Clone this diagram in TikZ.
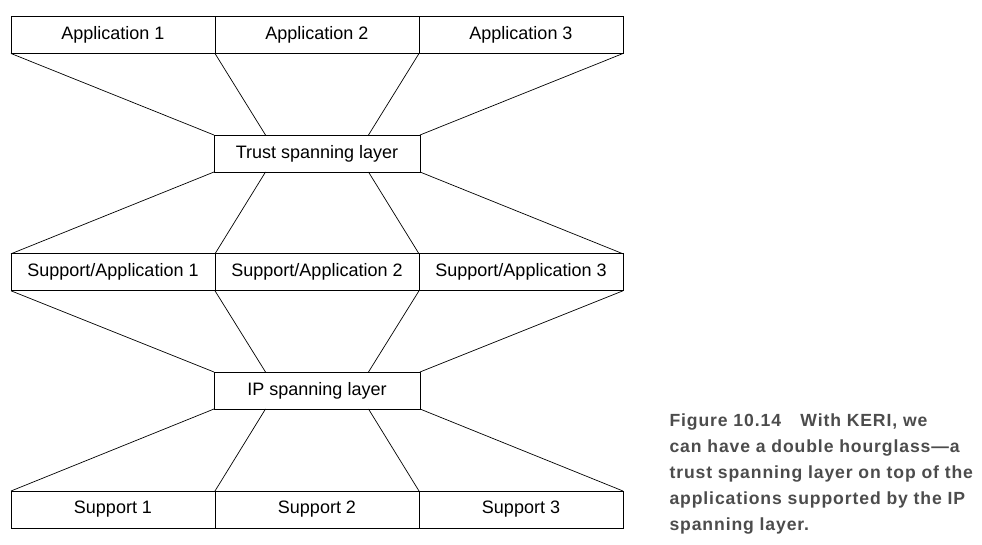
\documentclass[tikz,border=0pt]{standalone}
\usepackage{fontspec}
\setmainfont{Liberation Sans}
\newfontfamily\captionfont[LetterSpace=5]{Liberation Sans}
\usetikzlibrary{positioning,calc}
\definecolor{captiongray}{HTML}{4C4C4C}

\begin{document}
\begin{tikzpicture}[x=1pt, y=-1pt,
  layer/.style={rectangle, draw, line width=0.8pt, minimum width=204pt, minimum height=37pt,
    inner sep=0pt, outer sep=0pt, font=\fontsize{18}{20}\selectfont},
  funnel/.style={line width=0.7pt},
  caption/.style={anchor=north west, align=left, text=captiongray,
    font=\captionfont\bfseries\fontsize{17.6}{26}\selectfont},
]
\useasboundingbox (0,0) rectangle (982,545);

% === APPLICATIONS ===
\node[layer] (app1) at (113,35) {Application 1};
\node[layer, right=0pt of app1] (app2) {Application 2};
\node[layer, right=0pt of app2] (app3) {Application 3};

% === TRUST SPANNING LAYER ===
\node[layer, minimum width=206pt] (trust) at (317,153.5) {Trust spanning layer};

% === SUPPORT/APPLICATIONS ===
\node[layer] (sa1) at (113,272.3) {Support/Application 1};
\node[layer, right=0pt of sa1] (sa2) {Support/Application 2};
\node[layer, right=0pt of sa2] (sa3) {Support/Application 3};

% === IP SPANNING LAYER ===
\node[layer, minimum width=206pt] (ip) at (317,390.5) {IP spanning layer};

% === SUPPORTS ===
\node[layer] (sup1) at (113,509.5) {Support 1};
\node[layer, right=0pt of sup1] (sup2) {Support 2};
\node[layer, right=0pt of sup2] (sup3) {Support 3};

% funnels into the waist
\foreach \up/\waist in {app/trust, sa/ip} {
  \draw[funnel] (\up1.south west) -- (\waist.north west);
  \draw[funnel] (\up2.south west) -- ($(\waist.north west)!0.25!(\waist.north east)$);
  \draw[funnel] (\up3.south west) -- ($(\waist.north west)!0.75!(\waist.north east)$);
  \draw[funnel] (\up3.south east) -- (\waist.north east);
}
% funnels out of the waist
\foreach \waist/\down in {trust/sa, ip/sup} {
  \draw[funnel] (\waist.south west) -- (\down1.north west);
  \draw[funnel] ($(\waist.south west)!0.25!(\waist.south east)$) -- (\down2.north west);
  \draw[funnel] ($(\waist.south west)!0.75!(\waist.south east)$) -- (\down3.north west);
  \draw[funnel] (\waist.south east) -- (\down3.north east);
}

% === CAPTION ===
\node[caption] (cap) at (666,410)
  {Figure 10.14\hspace{1.1em}With KERI, we\\
   can have a double hourglass\textemdash a\\
   trust spanning layer on top of the\\
   applications supported by the IP\\
   spanning layer.};
\end{tikzpicture}
\end{document}
